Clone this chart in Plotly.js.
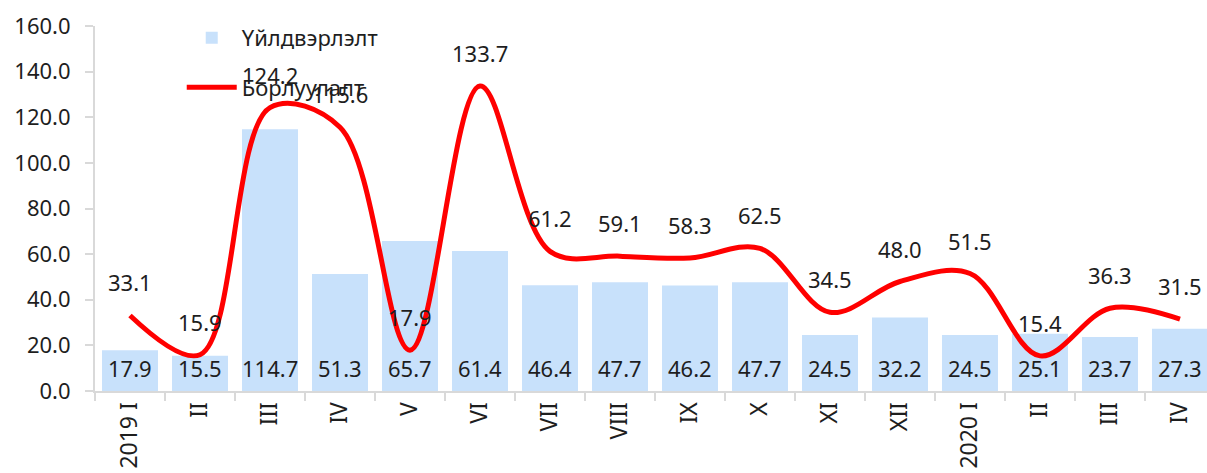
<!DOCTYPE html>
<html>
<head>
<meta charset="utf-8">
<script src="https://cdn.plot.ly/plotly-3.0.1.min.js"></script>
<style>
html,body{margin:0;padding:0;overflow:hidden;background:#fff;}
#chart{width:1207px;height:473px;}
</style>
</head>
<body>
<div id="chart"></div>
<script>
var categories = ["2019 I","2019 II","2019 III","2019 IV","2019 V","2019 VI","2019 VII","2019 VIII","2019 IX","2019 X","2019 XI","2019 XII","2020 I","2020 II","2020 III","2020 IV"];
var tickLabels = ["2019 I","II","III","IV","V","VI","VII","VIII","IX","X","XI","XII","2020 I","II","III","IV"];
var production = [17.9,15.5,114.7,51.3,65.7,61.4,46.4,47.7,46.2,47.7,24.5,32.2,24.5,25.1,23.7,27.3];
var sales = [33.1,15.9,124.2,115.6,17.9,133.7,61.2,59.1,58.3,62.5,34.5,48.0,51.5,15.4,36.3,31.5];
var seriesNames = ["Үйлдвэрлэлт","Борлуулалт"];

var FONT = "Noto Sans, Open Sans, sans-serif";
var TXT = "#1e1e1e";

var traces = [
  {type:"bar", x:categories, y:production, name:seriesNames[0], marker:{color:"#c8e1fb"}, width:0.8, legendgroup:"a", hoverinfo:"y"},
  {type:"scatter", mode:"lines", x:categories, y:sales, name:seriesNames[1], line:{color:"#ff0000", width:5, shape:"spline", smoothing:1}, legendgroup:"b", hoverinfo:"y"}
];

var annotations = [];
for (var i=0;i<categories.length;i++){
  annotations.push({x:categories[i], y:0, xref:"x", yref:"y", text:production[i].toFixed(1), showarrow:false, yanchor:"middle", yshift:23, font:{family:FONT,size:22,color:TXT}});
  annotations.push({x:categories[i], y:sales[i], xref:"x", yref:"y", text:sales[i].toFixed(1), showarrow:false, yanchor:"middle", yshift:33, font:{family:FONT,size:22,color:TXT}});
}

var layout = {
  width:1207, height:473,
  margin:{l:95,r:0,t:26,b:82},
  paper_bgcolor:"#fff", plot_bgcolor:"#fff",
  font:{family:FONT,size:22,color:TXT},
  showlegend:true,
  legend:{x:0.078, xanchor:"left", y:1.025, yanchor:"top", bgcolor:"rgba(0,0,0,0)", font:{family:FONT,size:22,color:TXT}, itemwidth:50, tracegroupgap:18, traceorder:"grouped"},
  bargap:0.2,
  xaxis:{type:"category", range:[-0.5,15.386], tickmode:"array", tickvals:categories, ticktext:tickLabels, tickangle:-90, tickson:"boundaries", ticks:"outside", ticklen:8, tickcolor:"#d9d9d9", tickwidth:2, showline:true, linecolor:"#d9d9d9", linewidth:2, showgrid:false, zeroline:false, tickfont:{family:FONT,size:23,color:TXT}},
  yaxis:{range:[0,160], dtick:20, tick0:0, tickformat:".1f", ticks:"outside", ticklen:8, tickcolor:"#d9d9d9", tickwidth:2, showline:true, linecolor:"#d9d9d9", linewidth:2, showgrid:false, zeroline:false, tickfont:{family:FONT,size:22,color:TXT}, ticklabelstandoff:10},
  annotations:annotations
};

Plotly.newPlot("chart", traces, layout, {displayModeBar:false, staticPlot:true});
</script>
</body>
</html>
